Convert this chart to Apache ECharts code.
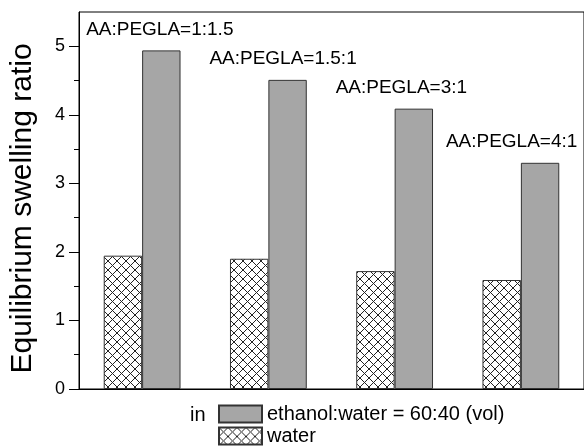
<!DOCTYPE html>
<html>
<head>
<meta charset="utf-8">
<script src="https://cdn.jsdelivr.net/npm/echarts@6/dist/echarts.min.js"></script>
<style>
html,body{margin:0;padding:0;background:#fff;}
#chart{width:584px;height:447px;}
</style>
</head>
<body>
<div id="chart"></div>
<script>
// ---- data ----
const categories = ['AA:PEGLA=1:1.5', 'AA:PEGLA=1.5:1', 'AA:PEGLA=3:1', 'AA:PEGLA=4:1'];
const ethanolValues = [4.94, 4.51, 4.09, 3.30];
const waterValues = [1.945, 1.90, 1.72, 1.59];
const majorTicks = [0, 1, 2, 3, 4, 5];
const minorTicks = [0.5, 1.5, 2.5, 3.5, 4.5];
const ethanolName = 'ethanol:water = 60:40 (vol)';
const waterName = 'water';
const yTitle = 'Equilibrium swelling ratio';
const legendPrefix = 'in';

// ---- styles ----
const FONT = 'Liberation Sans, Arial, Helvetica, sans-serif';
const labelShiftX = [-56, -59, -59, -75];
const greyFill = '#a6a6a6';

function hatchPattern() {
  const s = 9;
  const c = document.createElement('canvas');
  c.width = s; c.height = s;
  const g = c.getContext('2d');
  g.fillStyle = '#fff';
  g.fillRect(0, 0, s, s);
  g.strokeStyle = '#222';
  g.lineWidth = 1;
  g.beginPath();
  g.moveTo(-1, -1); g.lineTo(s + 1, s + 1);
  g.moveTo(s + 1, -1); g.lineTo(-1, s + 1);
  g.stroke();
  return { image: c, repeat: 'repeat' };
}

const legendBase = {
  orient: 'vertical', left: 218, padding: 0,
  itemWidth: 43, itemHeight: 17, itemGap: 0,
  icon: 'rect',
  textStyle: { fontFamily: FONT, fontSize: 20, color: '#000' },
  selectedMode: false
};

const chart = echarts.init(document.getElementById('chart'), null, { renderer: 'canvas' });

const option = {
  animation: false,
  textStyle: { fontFamily: FONT },
  grid: {
    left: 79, right: -1, top: 12, bottom: 58,
    show: true, borderColor: '#000', borderWidth: 1, backgroundColor: 'transparent'
  },
  title: {
    text: legendPrefix, left: 190, top: 405, padding: 0,
    textStyle: { fontFamily: FONT, fontSize: 20, fontWeight: 'normal', color: '#000' }
  },
  legend: [
    Object.assign({}, legendBase, { data: [ethanolName], top: 404 }),
    Object.assign({}, legendBase, { data: [waterName], top: 426 })
  ],
  xAxis: {
    type: 'category', data: categories,
    axisLine: { show: true, lineStyle: { color: '#000', width: 1 } },
    axisTick: { show: false },
    axisLabel: { show: false },
    splitLine: { show: false }
  },
  yAxis: [
    {
      type: 'value', min: 0, max: 5.5, interval: 1, position: 'left',
      name: yTitle, nameLocation: 'middle', nameGap: 41,
      nameTextStyle: { fontFamily: FONT, fontSize: 30, color: '#000', padding: [0, 16, 0, 0] },
      axisLine: { show: true, lineStyle: { color: '#000', width: 1 } },
      axisTick: { show: true, inside: false, length: 10, customValues: majorTicks, lineStyle: { color: '#000' } },
      axisLabel: { show: true, customValues: majorTicks, margin: 14, fontSize: 18, color: '#000', fontFamily: FONT },
      splitLine: { show: false }
    },
    {
      type: 'value', min: 0, max: 5.5, interval: 1, position: 'left',
      axisLine: { show: false },
      axisTick: { show: true, inside: false, length: 5, customValues: minorTicks, lineStyle: { color: '#000' } },
      axisLabel: { show: false },
      splitLine: { show: false }
    }
  ],
  series: [
    {
      name: waterName, type: 'bar', yAxisIndex: 0,
      data: waterValues,
      barWidth: 38.4, barGap: '0%',
      itemStyle: { color: hatchPattern(), borderColor: '#333', borderWidth: 1 }
    },
    {
      name: ethanolName, type: 'bar', yAxisIndex: 0,
      data: ethanolValues.map((v, i) => ({
        value: v,
        label: { position: [labelShiftX[i], -21] }
      })),
      barWidth: 38.4, barGap: '0%',
      itemStyle: { color: greyFill, borderColor: '#333', borderWidth: 1 },
      label: {
        show: true, formatter: '{b}', align: 'left', verticalAlign: 'middle',
        fontFamily: FONT, fontSize: 19, color: '#000'
      }
    }
  ]
};
chart.setOption(option);
</script>
</body>
</html>
